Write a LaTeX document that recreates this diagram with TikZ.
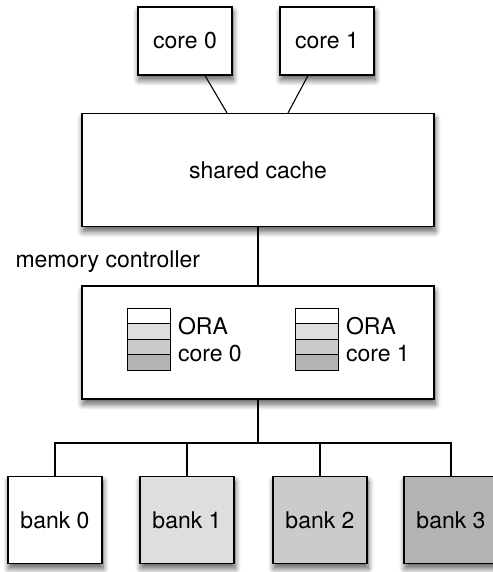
\documentclass[tikz,border=0pt]{standalone}
\usepackage{fontspec}
\setmainfont{TeX Gyre Heros}
\usepackage{tikz}
\usetikzlibrary{positioning}
\usetikzlibrary{calc}
\usetikzlibrary{shadows,shadows.blur}
\definecolor{shadeA}{HTML}{DEDEDE}
\definecolor{shadeB}{HTML}{CBCBCB}
\definecolor{shadeC}{HTML}{B3B3B3}
\tikzset{soft/.style={blur shadow={shadow xshift=1pt,shadow yshift=-5pt,shadow blur radius=6pt,shadow blur steps=10,shadow opacity=65}}}

\begin{document}
\begin{tikzpicture}[x=1pt,y=-1pt,line width=1.1pt,font=\fontsize{23}{27}\selectfont]
\tikzstyle{unit} = [draw,rectangle,fill=white,soft,inner sep=0pt]
\tikzstyle{corebox} = [unit,minimum width=94pt,minimum height=68pt]
\tikzstyle{bigbox} = [unit,minimum width=352pt,minimum height=113pt]
\tikzstyle{bankbox} = [unit,minimum width=94pt,minimum height=87pt]
\tikzstyle{slot} = [draw,rectangle,line width=1pt,minimum width=43pt,minimum height=15.5pt,inner sep=0pt]

\useasboundingbox (0,0) rectangle (492,572);

\node[corebox] (core0) at (185,41) {core 0};
\node[corebox] (core1) at (327,41) {core 1};
\node[bigbox] (cache) at (258,170) {shared cache};
\node[bigbox] (mc) at (258,342.5) {};
\node[anchor=west,inner sep=0pt] (mclabel) at (15,262) {memory controller};

% ORA queues
\foreach \q/\x in {0/148.5,1/316.5}
{
   \foreach \r/\f in {0/white,1/shadeA,2/shadeB,3/shadeC}
   {
      \node[slot,fill=\f] (ora\q\r) at (\x,315.75+15.5*\r) {};
   }
   \node[anchor=west,align=left,inner sep=0pt,right=7pt of ora\q1.south east] (oratext\q) {ORA\\core \q};
}

% memory banks
\foreach \b/\x/\f in {0/55/white,1/187/shadeA,2/320/shadeB,3/451/shadeC}
{
   \node[bankbox,fill=\f] (bank\b) at (\x,520) {bank \b};
}

\coordinate (bus) at (258,443);

\draw ($(core0.south)+(20,0)$) -- ($(cache.north)+(-31,0)$);
\draw ($(core1.south)+(-19,0)$) -- ($(cache.north)+(30,0)$);
\draw (cache.south) -- (mc.north);
\draw (mc.south) -- (bus);
\draw (bank0.north) |- (bus) -| (bank3.north);
\foreach \b in {1,2}
{
   \draw (bank\b.north) -- (bank\b.north |- bus);
}

\end{tikzpicture}
\end{document}
